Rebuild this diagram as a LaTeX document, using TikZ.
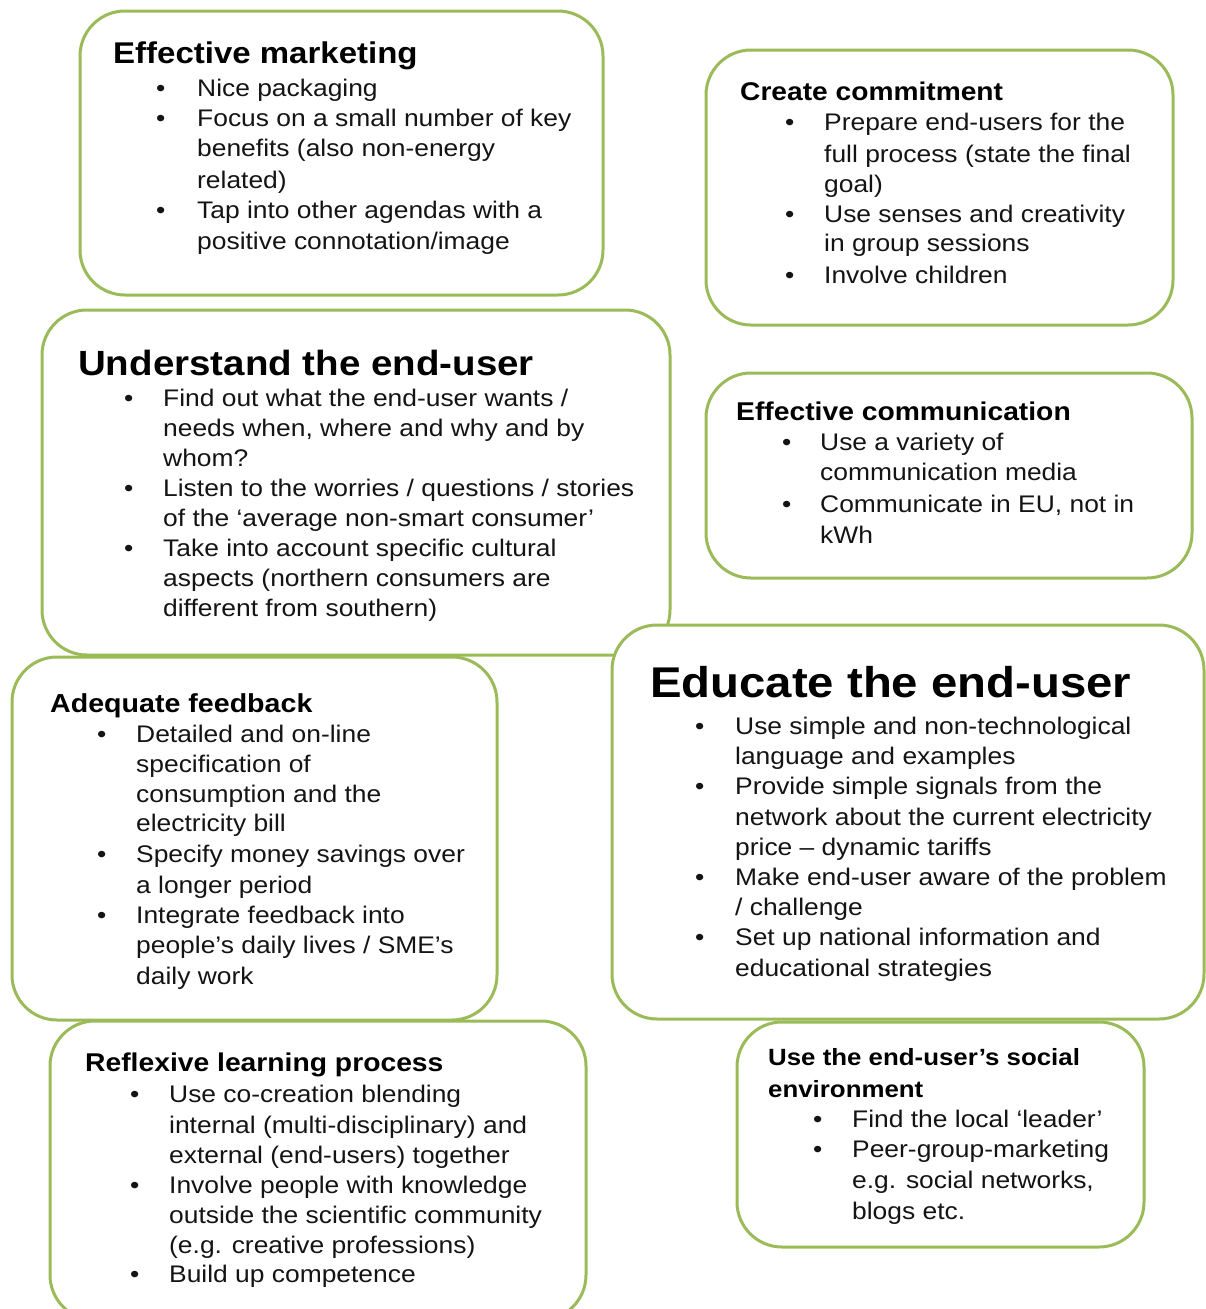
\documentclass[tikz,border=0pt]{standalone}
\usepackage{fontspec}
\setmainfont{Liberation Sans}
\newfontfamily\bodyf[FakeStretch=1.1]{Liberation Sans}
\newfontfamily\ttlf[FakeStretch=1.1]{Liberation Sans}
\definecolor{boxgreen}{HTML}{9BBB59}
\definecolor{txt}{HTML}{141414}
\newcommand\bodyfont{\bodyf\fontsize{24}{30}\selectfont}
\tikzset{
  box/.style={draw=boxgreen, line width=3pt, rounded corners=45pt, fill=white},
  body/.style={anchor=base west, inner sep=0pt, font=\bodyfont, text=txt},
  bul/.style={anchor=base west, inner sep=0pt, font=\bodyfont, text=txt},
  ttl/.style={anchor=base west, inner sep=0pt, text=black},
}
\newcommand\tline[4]{\node[body] (#1) at (#2,#3) {#4};}
\newcommand\bline[3]{\node[bul] (#1) at (#2,#3) {•};}
\newcommand\tttl[5]{\node[ttl, font={\ttlf\bfseries\fontsize{#4}{#4}\selectfont}] (#1) at (#2,#3) {#5};}
\begin{document}
\begin{tikzpicture}[x=1pt,y=-1pt]
\useasboundingbox (0,0) rectangle (1206,1309);
% boxes
\draw[box] (80,11) rectangle (603,295);
\draw[box] (706,50) rectangle (1173,325);
\draw[box] (42,310) rectangle (670,655);
\draw[box] (706,373) rectangle (1192,578);
\draw[box] (12,657) rectangle (497,1020);
\draw[box] (612,625) rectangle (1204,1019);
\draw[box] (50,1021) rectangle (586,1320);
\draw[box] (737,1022) rectangle (1144,1247);

% Effective marketing
\tttl{emt}{113}{63}{30}{Effective marketing}
\bline{emb1}{156}{96}\bline{emb2}{156}{126}\bline{emb3}{156}{218}
\tline{em1}{197}{96}{Nice packaging}
\tline{em2}{197}{126}{Focus on a small number of key}
\tline{em3}{197}{156}{benefits (also non-energy}
\tline{em4}{197}{188}{related)}
\tline{em5}{197}{218}{Tap into other agendas with a}
\tline{em6}{197}{249}{positive connotation/image}

% Create commitment
\tttl{cct}{740}{100}{25.6}{Create commitment}
\bline{ccb1}{785}{130}\bline{ccb2}{785}{222}\bline{ccb3}{785}{283}
\tline{cc1}{824}{130}{Prepare end-users for the}
\tline{cc2}{824}{162}{full process (state the final}
\tline{cc3}{824}{192}{goal)}
\tline{cc4}{824}{222}{Use senses and creativity}
\tline{cc5}{824}{251}{in group sessions}
\tline{cc6}{824}{283}{Involve children}

% Understand the end-user
\tttl{uet}{78}{375}{35}{Understand the end-user}
\bline{ueb1}{124}{406}\bline{ueb2}{124}{496}\bline{ueb3}{124}{556}
\tline{ue1}{163}{406}{Find out what the end-user wants /}
\tline{ue2}{163}{436}{needs when, where  and why and by}
\tline{ue3}{163}{466}{whom?}
\tline{ue4}{163}{496}{Listen to the worries / questions / stories}
\tline{ue5}{163}{526}{of the ‘average non-smart consumer’}
\tline{ue6}{163}{556}{Take into account specific cultural}
\tline{ue7}{163}{586}{aspects (northern consumers are}
\tline{ue8}{163}{616}{different from southern)}

% Effective communication
\tttl{ect}{736}{420}{25.7}{Effective communication}
\bline{ecb1}{782}{450}\bline{ecb2}{782}{512}
\tline{ec1}{820}{450}{Use a variety of}
\tline{ec2}{820}{480}{communication media}
\tline{ec3}{820}{512}{Communicate in EU, not in}
\tline{ec4}{820}{543}{kWh}

% Adequate feedback
\tttl{aft}{50}{712}{26}{Adequate feedback}
\bline{afb1}{97}{742}\bline{afb2}{97}{862}\bline{afb3}{97}{923}
\tline{af1}{136}{742}{Detailed and on-line}
\tline{af2}{136}{772}{specification of}
\tline{af3}{136}{802}{consumption and the}
\tline{af4}{136}{831}{electricity bill}
\tline{af5}{136}{862}{Specify money savings over}
\tline{af6}{136}{893}{a longer period}
\tline{af7}{136}{923}{Integrate feedback into}
\tline{af8}{136}{953}{people’s daily lives / SME’s}
\tline{af9}{136}{984}{daily work}

% Educate the end-user
\tttl{eet}{650}{697}{43}{Educate the end-user}
\bline{eeb1}{695}{734}\bline{eeb2}{695}{794}\bline{eeb3}{695}{885}\bline{eeb4}{695}{945}
\tline{ee1}{735}{734}{Use simple and non-technological}
\tline{ee2}{735}{764}{language and examples}
\tline{ee3}{735}{794}{Provide simple signals from the}
\tline{ee4}{735}{825}{network about the current  electricity}
\tline{ee5}{735}{855}{price – dynamic tariffs}
\tline{ee6}{735}{885}{Make end-user aware  of the problem}
\tline{ee7}{735}{915}{/ challenge}
\tline{ee8}{735}{945}{Set up national information and}
\tline{ee9}{735}{976}{educational strategies}

% Reflexive learning process
\tttl{rlt}{85}{1071}{25.7}{Reflexive learning process}
\bline{rlb1}{130}{1102}\bline{rlb2}{130}{1193}\bline{rlb3}{130}{1282}
\tline{rl1}{169}{1102}{Use co-creation blending}
\tline{rl2}{169}{1133}{internal (multi-disciplinary) and}
\tline{rl3}{169}{1163}{external (end-users) together}
\tline{rl4}{169}{1193}{Involve people with knowledge}
\tline{rl5}{169}{1223}{outside the scientific community}
\tline{rl6}{169}{1253}{(e.g. creative professions)}
\tline{rl7}{169}{1282}{Build up competence}

% Use the end-user's social environment
\tttl{ust1}{768}{1065}{23.5}{Use the end-user’s social}
\tttl{ust2}{768}{1097}{23.5}{environment}
\bline{usb1}{813}{1127}\bline{usb2}{813}{1157}
\tline{us1}{852}{1127}{Find the local ‘leader’}
\tline{us2}{852}{1157}{Peer-group-marketing}
\tline{us3}{852}{1188}{e.g. social networks,}
\tline{us4}{852}{1219}{blogs etc.}
\end{tikzpicture}
\end{document}
